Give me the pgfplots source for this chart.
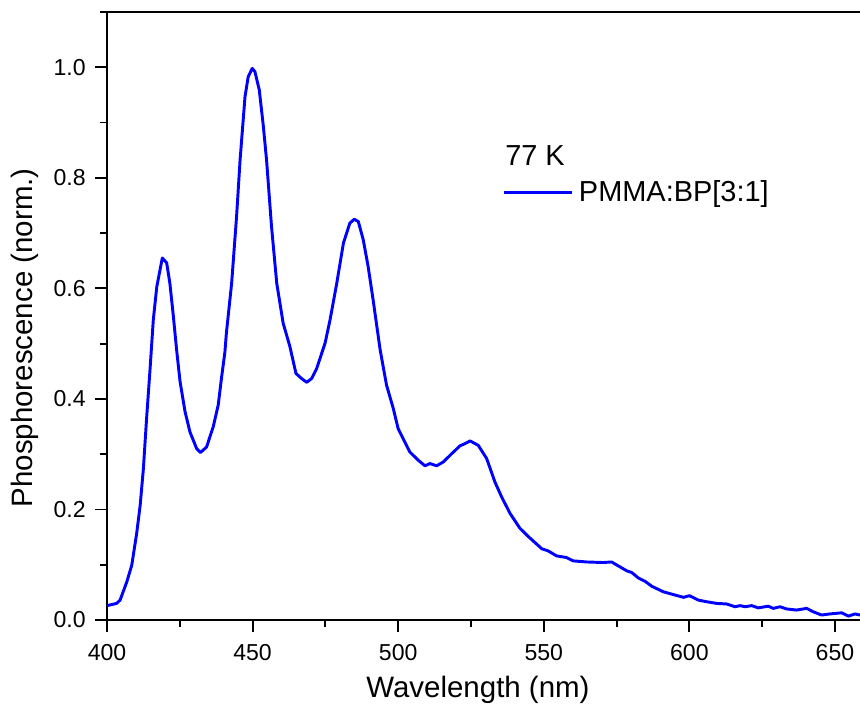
\documentclass[border=0pt]{standalone}
\usepackage{fontspec}
\setmainfont{Liberation Sans}
\usepackage{pgfplots}
\pgfplotsset{compat=1.18}

\begin{document}
\begin{tikzpicture}
% page = 860x704 px, 1 px = 0.75 pt; axis box lower left at (0,0)
\useasboundingbox (-80.25pt,-63pt) rectangle (564.75pt,465pt);
\begin{axis}[
    at={(0,0)}, anchor=south west,
    scale only axis,
    width=567.8pt, height=456pt,
    xmin=400, xmax=660,
    ymin=0, ymax=1.1,
    xtick={400,450,...,650},
    minor xtick={425,475,...,650},
    ytick={0,0.2,...,1.0},
    minor ytick={0.1,0.3,...,1.0},
    xtick pos=bottom, ytick pos=left,
    tick align=outside,
    major tick length=9pt,
    minor tick length=5.5pt,
    every tick/.style={black, line width=1.4pt},
    axis line style={line width=1.6pt},
    /pgf/number format/assume math mode=true,
    yticklabel style={/pgf/number format/fixed, /pgf/number format/fixed zerofill,
        /pgf/number format/precision=1, xshift=-3.5pt},
    xticklabel style={yshift=-6pt},
    tick label style={font=\fontsize{17.3}{20}\selectfont},
    label style={font=\fontsize{22.1}{26}\selectfont},
    xlabel={Wavelength (nm)},
    ylabel={Phosphorescence (norm.)},
    xlabel style={at={(axis description cs:0.49,0)}, anchor=base, yshift=-58pt},
    ylabel style={at={([xshift=-55.5pt]axis description cs:0,0.464)}, anchor=base},
    legend style={draw=none, fill=none, at={(axis cs:535.9,0.774)}, anchor=west,
        inner sep=0pt, outer sep=0pt, font=\fontsize{21.7}{24}\selectfont,
        /tikz/every even column/.append style={column sep=0pt}},
    legend image code/.code={\draw[#1] (0pt,0pt) -- (51pt,0pt);},
    clip=false,
]
\addplot[blue, line width=2.2pt, line join=round] coordinates {
(400.0,0.026) (403.3,0.030) (404.5,0.036) (406.8,0.069) (408.5,0.099)
(410.2,0.157) (411.4,0.208) (412.5,0.274) (413.6,0.365) (414.8,0.455)
(415.9,0.543) (417.1,0.603) (419.0,0.655) (420.5,0.646) (421.6,0.609)
(422.8,0.549) (423.9,0.489) (425.1,0.431) (426.8,0.377) (428.5,0.340)
(430.8,0.310) (432.1,0.303) (434.2,0.313) (436.5,0.350) (438.2,0.389)
(439.3,0.437) (440.5,0.485) (441.0,0.519) (442.8,0.609) (444.5,0.730)
(445.7,0.832) (447.4,0.947) (448.5,0.983) (449.9,0.998) (450.8,0.992)
(452.3,0.959) (453.7,0.893) (454.8,0.832) (456.5,0.712) (458.3,0.609)
(460.5,0.537) (462.8,0.495) (464.9,0.446) (466.8,0.437) (468.6,0.430)
(470.3,0.437) (472.0,0.455) (473.7,0.482) (474.9,0.501) (476.6,0.543)
(478.9,0.609) (481.2,0.682) (483.4,0.718) (484.9,0.725) (486.3,0.721)
(488.0,0.688) (489.7,0.639) (491.4,0.579) (493.8,0.489) (496.0,0.425)
(498.3,0.383) (500.0,0.346) (501.7,0.328) (504.0,0.304) (506.9,0.289)
(509.2,0.279) (510.9,0.283) (513.2,0.279) (515.5,0.286) (518.4,0.301)
(521.2,0.315) (522.9,0.319) (524.7,0.324) (527.5,0.316) (530.4,0.292)
(533.2,0.250) (535.5,0.223) (538.4,0.193) (541.8,0.166) (544.7,0.151)
(549.3,0.129) (551.5,0.125) (554.4,0.116) (557.8,0.113) (560.1,0.107)
(564.7,0.105) (570.4,0.104) (573.3,0.105) (576.2,0.096) (578.5,0.089)
(580.2,0.086) (582.5,0.076) (584.8,0.070) (587.1,0.061) (591.1,0.051)
(594.5,0.046) (598.0,0.041) (600.0,0.044) (603.1,0.036) (606.0,0.033)
(609.4,0.030) (612.8,0.029) (615.7,0.024) (617.4,0.026) (619.1,0.024)
(621.4,0.026) (623.7,0.022) (627.1,0.025) (628.8,0.021) (631.1,0.024)
(633.4,0.020) (636.8,0.018) (640.3,0.021) (642.5,0.015) (645.4,0.009)
(648.3,0.011) (652.3,0.013) (654.6,0.007) (656.9,0.011) (658.6,0.009)
(659.5,0.010)
};
\addlegendentry{\hspace{2pt}PMMA:BP[3:1]}
\node[anchor=base west, inner sep=0pt, font=\fontsize{21.7}{24}\selectfont] at (axis cs:536.7,0.822) {77 K};
\end{axis}
\end{tikzpicture}
\end{document}
